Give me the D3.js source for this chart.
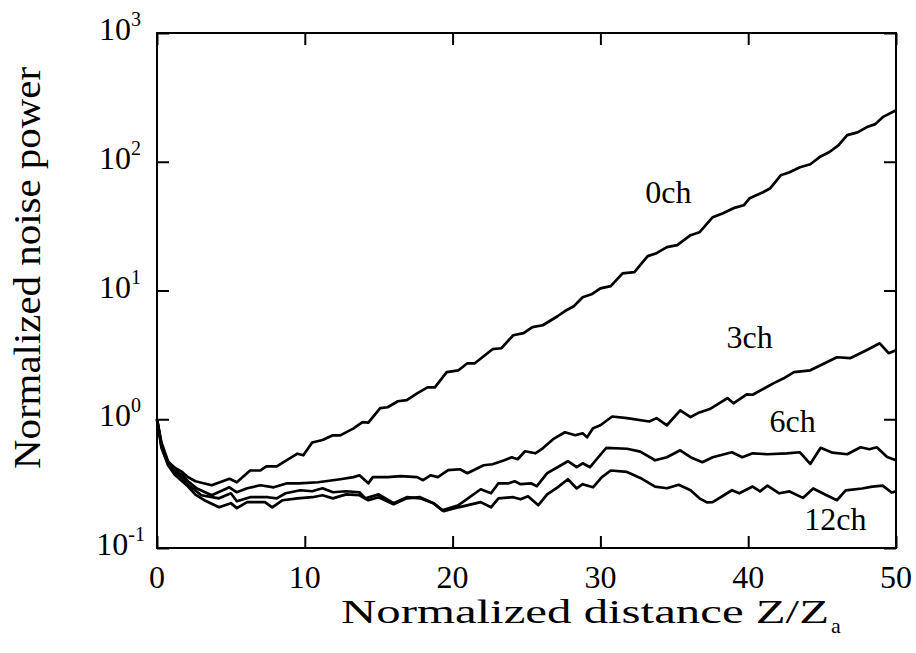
<!DOCTYPE html>
<html>
<head>
<meta charset="utf-8">
<script src="https://cdn.jsdelivr.net/npm/d3@7"></script>
<style>
  body { margin: 0; background: #fff; }
  text { font-family: "Liberation Serif", "Times New Roman", serif; fill: #000; }
</style>
</head>
<body>
<script>

// DATA
//
var xTicks = [0, 10, 20, 30, 40, 50];
var yTicks = [0.1, 1, 10, 100, 1000];
var yTickExp = ["-1", "0", "1", "2", "3"];

var ch0X = [0, 0.3, 0.75, 1.2, 1.7, 2.1, 2.6, 3.7, 4.9, 5.4, 6.3, 7.0, 7.4, 8.1, 9.5, 9.9, 10.5, 11.2, 11.9, 12.4, 13.3, 13.9, 14.3, 15.1, 15.6, 16.3, 16.9, 17.6, 18.3, 18.8, 19.6, 20.4, 21.0, 21.5, 22.7, 23.3, 24.1, 24.8, 25.4, 26.1, 27.1, 27.7, 28.2, 28.8, 29.4, 30.0, 30.7, 31.5, 32.3, 33.2, 33.8, 34.5, 35.2, 36.1, 36.7, 37.6, 38.3, 39.0, 39.7, 40.1, 41.0, 41.5, 42.2, 42.8, 43.5, 44.2, 44.9, 45.5, 46.1, 46.7, 47.4, 48.0, 48.6, 49.1, 50];
var ch0Y = [1.0, 0.66, 0.47, 0.42, 0.39, 0.355, 0.33, 0.307, 0.345, 0.324, 0.40, 0.40, 0.43, 0.43, 0.54, 0.525, 0.66, 0.69, 0.75, 0.75, 0.85, 0.95, 0.94, 1.22, 1.24, 1.38, 1.41, 1.59, 1.77, 1.77, 2.32, 2.40, 2.72, 2.72, 3.5, 3.56, 4.49, 4.66, 5.19, 5.37, 6.31, 7.03, 7.55, 8.87, 9.35, 10.4, 10.8, 13.6, 13.9, 18.5, 19.5, 21.7, 22.5, 26.9, 28.3, 37.1, 39.8, 43.6, 45.9, 52.1, 58, 62.3, 78.5, 82.9, 90.6, 95.7, 110, 119, 134, 161, 169, 185, 196, 222, 251];

var ch3X = [0, 0.3, 0.75, 1.2, 1.7, 2.1, 2.7, 3.7, 4.9, 5.4, 6.1, 7.0, 7.9, 8.8, 9.6, 10.9, 12.4, 13.3, 13.7, 14.3, 14.6, 15.6, 16.5, 17.6, 18.0, 18.5, 19.0, 19.7, 20.5, 21.0, 22.1, 22.7, 23.5, 24.0, 24.4, 24.9, 25.6, 26.1, 26.8, 27.6, 28.3, 28.8, 29.1, 29.5, 30.0, 30.8, 31.8, 33.3, 33.8, 34.5, 35.4, 36.1, 36.7, 37.4, 38.6, 39.0, 39.9, 40.3, 41.7, 42.4, 43.1, 44.2, 44.9, 46.0, 46.9, 48.0, 48.9, 49.5, 50];
var ch3Y = [1.0, 0.64, 0.46, 0.40, 0.37, 0.33, 0.29, 0.257, 0.296, 0.271, 0.291, 0.307, 0.296, 0.318, 0.318, 0.324, 0.342, 0.355, 0.367, 0.318, 0.355, 0.355, 0.361, 0.355, 0.336, 0.367, 0.355, 0.402, 0.409, 0.381, 0.439, 0.447, 0.480, 0.507, 0.489, 0.564, 0.544, 0.595, 0.70, 0.792, 0.751, 0.778, 0.725, 0.851, 0.898, 1.05, 1.02, 0.96, 1.02, 0.898, 1.17, 1.04, 1.13, 1.20, 1.46, 1.33, 1.56, 1.55, 1.90, 2.08, 2.32, 2.40, 2.63, 3.03, 2.98, 3.44, 3.89, 3.26, 3.44];

var ch6X = [0, 0.3, 0.75, 1.2, 1.7, 2.1, 2.6, 3.0, 4.2, 5.0, 5.4, 6.3, 7.5, 8.1, 8.7, 9.7, 10.5, 11.2, 11.9, 12.8, 13.7, 14.1, 15.0, 16.0, 16.9, 17.8, 18.7, 19.3, 20.4, 21.9, 22.6, 23.1, 23.8, 24.2, 24.6, 25.3, 25.7, 26.4, 27.1, 27.8, 28.4, 28.8, 29.3, 29.8, 30.4, 31.8, 32.7, 33.7, 34.5, 35.4, 36.1, 36.9, 37.6, 38.9, 39.6, 40.3, 41.3, 42.6, 43.5, 44.2, 44.9, 45.7, 46.7, 47.6, 48.2, 48.7, 49.4, 50];
var ch6Y = [1.0, 0.62, 0.45, 0.39, 0.35, 0.31, 0.28, 0.257, 0.243, 0.266, 0.231, 0.248, 0.248, 0.243, 0.266, 0.281, 0.276, 0.291, 0.271, 0.276, 0.271, 0.243, 0.261, 0.223, 0.248, 0.243, 0.223, 0.196, 0.215, 0.286, 0.266, 0.318, 0.318, 0.33, 0.313, 0.318, 0.302, 0.381, 0.424, 0.472, 0.424, 0.455, 0.424, 0.498, 0.60, 0.59, 0.56, 0.48, 0.507, 0.574, 0.507, 0.464, 0.507, 0.554, 0.507, 0.544, 0.535, 0.544, 0.554, 0.45, 0.60, 0.55, 0.535, 0.606, 0.585, 0.606, 0.51, 0.48];

var ch12X = [0, 0.3, 0.75, 1.2, 1.7, 2.1, 2.6, 3.2, 4.2, 5.0, 5.4, 6.1, 7.3, 7.8, 8.5, 9.5, 10.5, 11.2, 11.9, 12.8, 13.7, 14.3, 15.0, 16.0, 16.9, 17.8, 18.7, 19.4, 20.4, 21.9, 22.6, 23.1, 24.1, 24.6, 25.1, 25.8, 26.4, 27.1, 27.8, 28.4, 28.8, 29.5, 30.1, 30.7, 31.8, 32.7, 33.7, 34.5, 35.3, 36.1, 36.7, 37.2, 37.6, 38.9, 39.4, 40.3, 40.8, 41.3, 42.1, 42.8, 43.7, 44.4, 45.2, 46.0, 46.6, 47.7, 48.4, 49.1, 49.7, 50];
var ch12Y = [1.0, 0.60, 0.44, 0.37, 0.33, 0.30, 0.26, 0.235, 0.207, 0.223, 0.204, 0.227, 0.227, 0.207, 0.235, 0.243, 0.248, 0.257, 0.243, 0.261, 0.257, 0.235, 0.248, 0.219, 0.243, 0.248, 0.223, 0.193, 0.207, 0.227, 0.207, 0.243, 0.248, 0.239, 0.252, 0.215, 0.261, 0.296, 0.342, 0.29, 0.313, 0.296, 0.355, 0.40, 0.39, 0.35, 0.30, 0.291, 0.31, 0.281, 0.243, 0.226, 0.227, 0.281, 0.266, 0.30, 0.275, 0.305, 0.266, 0.275, 0.245, 0.29, 0.26, 0.235, 0.28, 0.29, 0.30, 0.305, 0.27, 0.275];

var seriesNames = ["0ch", "3ch", "6ch", "12ch"];
// label anchor in data coords (x, y)
var labelX = [34.6, 40.1, 43.0, 45.9];
var labelY = [48, 3.56, 0.79, 0.137];

// LAYOUT
//
var width = 916, height = 653;
var plotL = 157, plotR = 896, plotT = 33, plotB = 548;

var x = d3.scaleLinear().domain([0, 50]).range([plotL, plotR]);
var y = d3.scaleLog().domain([0.1, 1000]).range([plotB, plotT]);

var svg = d3.select("body").append("svg")
  .attr("width", width)
  .attr("height", height);

// TICKS (inward, all four sides)
//
svg.append("g")
  .attr("transform", "translate(0," + plotB + ")")
  .call(d3.axisBottom(x).tickValues(xTicks).tickSize(-12).tickFormat(""))
  .call(g => g.select(".domain").remove());
svg.append("g")
  .attr("transform", "translate(0," + plotT + ")")
  .call(d3.axisTop(x).tickValues(xTicks).tickSize(-12).tickFormat(""))
  .call(g => g.select(".domain").remove());
svg.append("g")
  .attr("transform", "translate(" + plotL + ",0)")
  .call(d3.axisLeft(y).tickValues(yTicks).tickSize(-12).tickFormat(""))
  .call(g => g.select(".domain").remove());
svg.append("g")
  .attr("transform", "translate(" + plotR + ",0)")
  .call(d3.axisRight(y).tickValues(yTicks).tickSize(-12).tickFormat(""))
  .call(g => g.select(".domain").remove());
svg.selectAll(".tick line").attr("stroke", "#000").attr("stroke-width", 2);

// FRAME
//
svg.append("rect")
  .attr("x", plotL).attr("y", plotT)
  .attr("width", plotR - plotL).attr("height", plotB - plotT)
  .attr("fill", "none").attr("stroke", "#000").attr("stroke-width", 2);

// TICK LABELS
//
svg.selectAll(".xlab").data(xTicks).enter().append("text")
  .attr("class", "xlab")
  .attr("x", d => x(d))
  .attr("y", plotB + 40)
  .attr("text-anchor", "middle")
  .style("font-size", "32px")
  .text(d => d);

var ylab = svg.selectAll(".ylab").data(yTicks).enter().append("text")
  .attr("class", "ylab")
  .attr("x", plotL - 26)
  .attr("y", d => y(d) + 7)
  .attr("text-anchor", "end")
  .style("font-size", "32px");
ylab.append("tspan").text("10");
ylab.append("tspan")
  .attr("dy", -14)
  .style("font-size", "20px")
  .text((d, i) => yTickExp[i]);
// shift so that the base "10" ends near the axis
ylab.attr("transform", (d, i) => "translate(" + (yTickExp[i].length > 1 ? 14 : 10) + ",0)");

// AXIS TITLES
//
svg.append("text")
  .attr("x", 341)
  .attr("y", 623)
  .attr("textLength", 488)
  .attr("lengthAdjust", "spacingAndGlyphs")
  .style("font-size", "34px")
  .text("Normalized distance Z/Z");
svg.append("text")
  .attr("x", 831)
  .attr("y", 633)
  .style("font-size", "22px")
  .text("a");

svg.append("text")
  .attr("transform", "translate(40,268) rotate(-90)")
  .attr("text-anchor", "middle")
  .attr("textLength", 402)
  .attr("lengthAdjust", "spacingAndGlyphs")
  .style("font-size", "37px")
  .text("Normalized noise power");

// CURVES
//
var line = d3.line()
  .x(d => x(d[0]))
  .y(d => y(d[1]));

var allX = [ch0X, ch3X, ch6X, ch12X];
var allY = [ch0Y, ch3Y, ch6Y, ch12Y];

svg.append("g").selectAll("path")
  .data(allX.map((xs, i) => xs.map((v, j) => [v, allY[i][j]])))
  .enter().append("path")
  .attr("d", line)
  .attr("fill", "none")
  .attr("stroke", "#000")
  .attr("stroke-width", 2.7)
  .attr("stroke-linejoin", "round");

// SERIES LABELS
//
svg.selectAll(".slab").data(seriesNames).enter().append("text")
  .attr("class", "slab")
  .attr("x", (d, i) => x(labelX[i]))
  .attr("y", (d, i) => y(labelY[i]))
  .attr("text-anchor", "middle")
  .style("font-size", "32px")
  .text(d => d);

</script>
</body>
</html>
